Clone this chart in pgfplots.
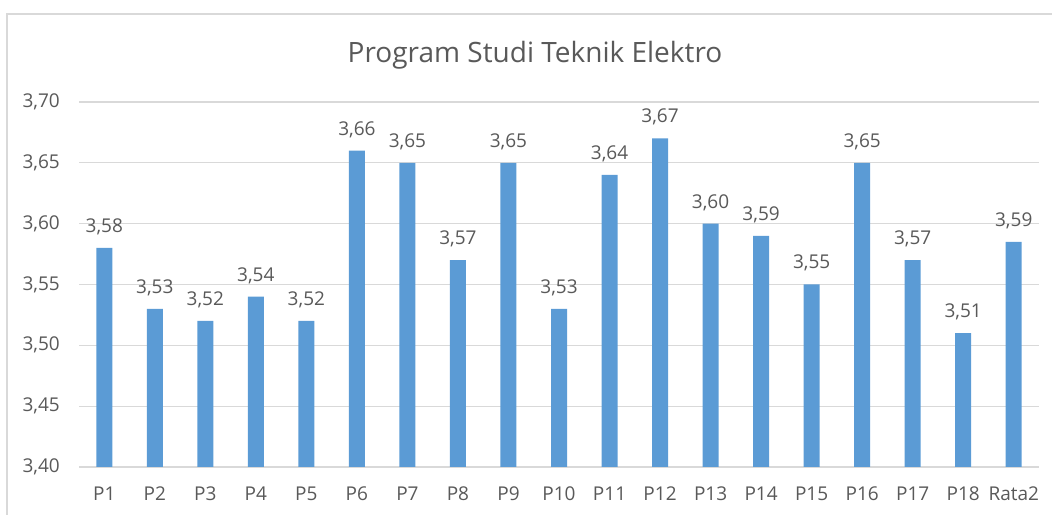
\documentclass[border=0pt]{standalone}
\usepackage{fontspec}
\setmainfont{Open Sans}
\usepackage{pgfplots}
\usepackage{pgfplotstable}
\pgfplotsset{compat=1.18}
\definecolor{barblue}{HTML}{5B9BD5}
\definecolor{txtgray}{HTML}{595959}
\definecolor{gridgray}{HTML}{D9D9D9}
\pgfplotstableread{
x y lab
0 3.58 3,58
1 3.53 3,53
2 3.52 3,52
3 3.54 3,54
4 3.52 3,52
5 3.66 3,66
6 3.65 3,65
7 3.57 3,57
8 3.65 3,65
9 3.53 3,53
10 3.64 3,64
11 3.67 3,67
12 3.60 3,60
13 3.59 3,59
14 3.55 3,55
15 3.65 3,65
16 3.57 3,57
17 3.51 3,51
18 3.585 3,59
}\datatable
\begin{document}
\begin{tikzpicture}[x=1pt,y=1pt]
\path[use as bounding box] (0,0) rectangle (1052,514);
\draw[gridgray,line width=1.5pt] (7,-2) -- (7,500) -- (1054,500);
\node[txtgray,font=\fontsize{28}{32}\selectfont,anchor=base] at (535,451) {Program Studi Teknik Elektro};
\begin{axis}[
  at={(79pt,47pt)}, anchor=south west,
  scale only axis, width=960pt, height=365pt,
  xmin=-0.5, xmax=18.5, ymin=3.40, ymax=3.70,
  ytick={3.40,3.45,...,3.701},
  xtick={0,...,18},
  xticklabels={P1,P2,P3,P4,P5,P6,P7,P8,P9,P10,P11,P12,P13,P14,P15,P16,P17,P18,Rata2},
  axis line style={draw=none},
  axis x line*=bottom,
  major tick length=0pt,
  ymajorgrids, grid style={gridgray,line width=1.2pt},
  ticklabel style={txtgray,font=\fontsize{19}{22}\selectfont},
  xticklabel style={anchor=north,inner sep=0pt,yshift=-20pt},
  yticklabel style={anchor=east,inner sep=0pt,xshift=-19pt},
  /pgf/number format/.cd, fixed, fixed zerofill, precision=2, use comma, assume math mode=true,
  /pgfplots/.cd,
  ybar, bar width=16pt,
  nodes near coords,
  point meta=explicit symbolic,
  every node near coord/.append style={txtgray,font=\fontsize{19}{22}\selectfont,anchor=base,inner sep=0pt,yshift=15.5pt},
  clip=false,
]
\draw[gridgray,line width=1.5pt] (axis cs:-0.5,3.40) -- (axis cs:18.5,3.40);
\addplot[fill=barblue,draw=none,bar shift=0pt] table[x=x,y=y,meta=lab]{\datatable};
\end{axis}
\end{tikzpicture}
\end{document}
